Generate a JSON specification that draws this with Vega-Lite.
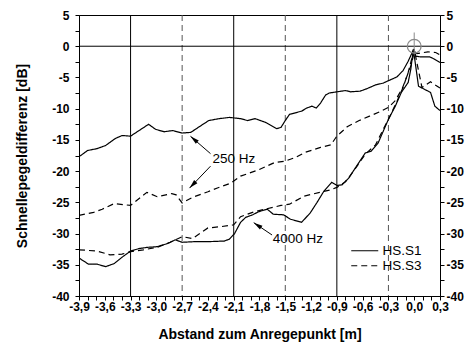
{
"$schema": "https://vega.github.io/schema/vega-lite/v6.json",
"width": 361,
"height": 281,
"autosize": {"type": "none"},
"padding": {"left": 79, "top": 15, "right": 30, "bottom": 47},
"background": "white",
"datasets": {
"curves": [
{"x":-3.89,"y":-17.6,"freq":"250 Hz","sensor":"HS.S1"},{"x":-3.80,"y":-16.7,"freq":"250 Hz","sensor":"HS.S1"},{"x":-3.69,"y":-16.4,"freq":"250 Hz","sensor":"HS.S1"},{"x":-3.59,"y":-15.9,"freq":"250 Hz","sensor":"HS.S1"},{"x":-3.48,"y":-14.8,"freq":"250 Hz","sensor":"HS.S1"},{"x":-3.40,"y":-14.3,"freq":"250 Hz","sensor":"HS.S1"},{"x":-3.30,"y":-14.4,"freq":"250 Hz","sensor":"HS.S1"},{"x":-3.09,"y":-12.5,"freq":"250 Hz","sensor":"HS.S1"},{"x":-3.01,"y":-13.3,"freq":"250 Hz","sensor":"HS.S1"},{"x":-2.91,"y":-13.7,"freq":"250 Hz","sensor":"HS.S1"},{"x":-2.81,"y":-13.5,"freq":"250 Hz","sensor":"HS.S1"},{"x":-2.70,"y":-13.9,"freq":"250 Hz","sensor":"HS.S1"},{"x":-2.60,"y":-13.8,"freq":"250 Hz","sensor":"HS.S1"},{"x":-2.49,"y":-12.8,"freq":"250 Hz","sensor":"HS.S1"},{"x":-2.39,"y":-11.9,"freq":"250 Hz","sensor":"HS.S1"},{"x":-2.27,"y":-11.6,"freq":"250 Hz","sensor":"HS.S1"},{"x":-2.15,"y":-11.4,"freq":"250 Hz","sensor":"HS.S1"},{"x":-2.02,"y":-11.6,"freq":"250 Hz","sensor":"HS.S1"},{"x":-1.94,"y":-11.9,"freq":"250 Hz","sensor":"HS.S1"},{"x":-1.85,"y":-11.6,"freq":"250 Hz","sensor":"HS.S1"},{"x":-1.73,"y":-12.2,"freq":"250 Hz","sensor":"HS.S1"},{"x":-1.60,"y":-13.2,"freq":"250 Hz","sensor":"HS.S1"},{"x":-1.55,"y":-13.0,"freq":"250 Hz","sensor":"HS.S1"},{"x":-1.50,"y":-11.9,"freq":"250 Hz","sensor":"HS.S1"},{"x":-1.45,"y":-10.9,"freq":"250 Hz","sensor":"HS.S1"},{"x":-1.31,"y":-10.4,"freq":"250 Hz","sensor":"HS.S1"},{"x":-1.25,"y":-9.9,"freq":"250 Hz","sensor":"HS.S1"},{"x":-1.19,"y":-9.6,"freq":"250 Hz","sensor":"HS.S1"},{"x":-1.14,"y":-9.9,"freq":"250 Hz","sensor":"HS.S1"},{"x":-1.09,"y":-9.1,"freq":"250 Hz","sensor":"HS.S1"},{"x":-1.03,"y":-7.8,"freq":"250 Hz","sensor":"HS.S1"},{"x":-0.99,"y":-7.5,"freq":"250 Hz","sensor":"HS.S1"},{"x":-0.90,"y":-7.3,"freq":"250 Hz","sensor":"HS.S1"},{"x":-0.80,"y":-7.1,"freq":"250 Hz","sensor":"HS.S1"},{"x":-0.74,"y":-7.3,"freq":"250 Hz","sensor":"HS.S1"},{"x":-0.63,"y":-7.2,"freq":"250 Hz","sensor":"HS.S1"},{"x":-0.55,"y":-6.8,"freq":"250 Hz","sensor":"HS.S1"},{"x":-0.45,"y":-6.2,"freq":"250 Hz","sensor":"HS.S1"},{"x":-0.36,"y":-5.9,"freq":"250 Hz","sensor":"HS.S1"},{"x":-0.28,"y":-5.4,"freq":"250 Hz","sensor":"HS.S1"},{"x":-0.20,"y":-4.9,"freq":"250 Hz","sensor":"HS.S1"},{"x":-0.13,"y":-3.9,"freq":"250 Hz","sensor":"HS.S1"},{"x":-0.07,"y":-2.4,"freq":"250 Hz","sensor":"HS.S1"},{"x":-0.01,"y":-0.6,"freq":"250 Hz","sensor":"HS.S1"},{"x":0.02,"y":-1.6,"freq":"250 Hz","sensor":"HS.S1"},{"x":0.07,"y":-1.7,"freq":"250 Hz","sensor":"HS.S1"},{"x":0.18,"y":-1.7,"freq":"250 Hz","sensor":"HS.S1"},{"x":0.24,"y":-2.1,"freq":"250 Hz","sensor":"HS.S1"},{"x":0.30,"y":-2.6,"freq":"250 Hz","sensor":"HS.S1"},
{"x":-3.90,"y":-27.1,"freq":"250 Hz","sensor":"HS.S3"},{"x":-3.73,"y":-26.6,"freq":"250 Hz","sensor":"HS.S3"},{"x":-3.63,"y":-26.1,"freq":"250 Hz","sensor":"HS.S3"},{"x":-3.49,"y":-25.2,"freq":"250 Hz","sensor":"HS.S3"},{"x":-3.30,"y":-25.5,"freq":"250 Hz","sensor":"HS.S3"},{"x":-3.11,"y":-23.4,"freq":"250 Hz","sensor":"HS.S3"},{"x":-2.99,"y":-24.1,"freq":"250 Hz","sensor":"HS.S3"},{"x":-2.82,"y":-23.6,"freq":"250 Hz","sensor":"HS.S3"},{"x":-2.77,"y":-23.8,"freq":"250 Hz","sensor":"HS.S3"},{"x":-2.70,"y":-25.1,"freq":"250 Hz","sensor":"HS.S3"},{"x":-2.58,"y":-24.2,"freq":"250 Hz","sensor":"HS.S3"},{"x":-2.40,"y":-23.3,"freq":"250 Hz","sensor":"HS.S3"},{"x":-2.29,"y":-22.7,"freq":"250 Hz","sensor":"HS.S3"},{"x":-2.13,"y":-21.9,"freq":"250 Hz","sensor":"HS.S3"},{"x":-2.02,"y":-20.8,"freq":"250 Hz","sensor":"HS.S3"},{"x":-1.81,"y":-19.8,"freq":"250 Hz","sensor":"HS.S3"},{"x":-1.62,"y":-18.6,"freq":"250 Hz","sensor":"HS.S3"},{"x":-1.50,"y":-18.4,"freq":"250 Hz","sensor":"HS.S3"},{"x":-1.38,"y":-17.8,"freq":"250 Hz","sensor":"HS.S3"},{"x":-1.27,"y":-17.0,"freq":"250 Hz","sensor":"HS.S3"},{"x":-1.09,"y":-16.2,"freq":"250 Hz","sensor":"HS.S3"},{"x":-0.97,"y":-15.8,"freq":"250 Hz","sensor":"HS.S3"},{"x":-0.90,"y":-14.4,"freq":"250 Hz","sensor":"HS.S3"},{"x":-0.78,"y":-12.9,"freq":"250 Hz","sensor":"HS.S3"},{"x":-0.64,"y":-11.9,"freq":"250 Hz","sensor":"HS.S3"},{"x":-0.52,"y":-11.2,"freq":"250 Hz","sensor":"HS.S3"},{"x":-0.40,"y":-10.5,"freq":"250 Hz","sensor":"HS.S3"},{"x":-0.30,"y":-9.8,"freq":"250 Hz","sensor":"HS.S3"},{"x":-0.22,"y":-8.7,"freq":"250 Hz","sensor":"HS.S3"},{"x":-0.14,"y":-6.8,"freq":"250 Hz","sensor":"HS.S3"},{"x":-0.09,"y":-5.0,"freq":"250 Hz","sensor":"HS.S3"},{"x":-0.03,"y":-2.8,"freq":"250 Hz","sensor":"HS.S3"},{"x":0.0,"y":-0.8,"freq":"250 Hz","sensor":"HS.S3"},{"x":0.03,"y":-1.2,"freq":"250 Hz","sensor":"HS.S3"},{"x":0.16,"y":-0.9,"freq":"250 Hz","sensor":"HS.S3"},{"x":0.25,"y":-1.0,"freq":"250 Hz","sensor":"HS.S3"},{"x":0.30,"y":-1.4,"freq":"250 Hz","sensor":"HS.S3"},
{"x":-3.89,"y":-34.0,"freq":"4000 Hz","sensor":"HS.S1"},{"x":-3.79,"y":-34.9,"freq":"4000 Hz","sensor":"HS.S1"},{"x":-3.69,"y":-34.9,"freq":"4000 Hz","sensor":"HS.S1"},{"x":-3.59,"y":-35.3,"freq":"4000 Hz","sensor":"HS.S1"},{"x":-3.49,"y":-34.8,"freq":"4000 Hz","sensor":"HS.S1"},{"x":-3.40,"y":-33.8,"freq":"4000 Hz","sensor":"HS.S1"},{"x":-3.30,"y":-32.8,"freq":"4000 Hz","sensor":"HS.S1"},{"x":-3.20,"y":-32.4,"freq":"4000 Hz","sensor":"HS.S1"},{"x":-3.10,"y":-32.2,"freq":"4000 Hz","sensor":"HS.S1"},{"x":-2.99,"y":-32.1,"freq":"4000 Hz","sensor":"HS.S1"},{"x":-2.87,"y":-31.6,"freq":"4000 Hz","sensor":"HS.S1"},{"x":-2.78,"y":-31.0,"freq":"4000 Hz","sensor":"HS.S1"},{"x":-2.70,"y":-31.4,"freq":"4000 Hz","sensor":"HS.S1"},{"x":-2.56,"y":-31.3,"freq":"4000 Hz","sensor":"HS.S1"},{"x":-2.40,"y":-31.3,"freq":"4000 Hz","sensor":"HS.S1"},{"x":-2.21,"y":-31.2,"freq":"4000 Hz","sensor":"HS.S1"},{"x":-2.15,"y":-30.9,"freq":"4000 Hz","sensor":"HS.S1"},{"x":-2.09,"y":-30.0,"freq":"4000 Hz","sensor":"HS.S1"},{"x":-2.02,"y":-28.2,"freq":"4000 Hz","sensor":"HS.S1"},{"x":-1.96,"y":-27.4,"freq":"4000 Hz","sensor":"HS.S1"},{"x":-1.88,"y":-27.0,"freq":"4000 Hz","sensor":"HS.S1"},{"x":-1.81,"y":-26.5,"freq":"4000 Hz","sensor":"HS.S1"},{"x":-1.71,"y":-26.1,"freq":"4000 Hz","sensor":"HS.S1"},{"x":-1.64,"y":-26.9,"freq":"4000 Hz","sensor":"HS.S1"},{"x":-1.52,"y":-27.0,"freq":"4000 Hz","sensor":"HS.S1"},{"x":-1.44,"y":-27.7,"freq":"4000 Hz","sensor":"HS.S1"},{"x":-1.31,"y":-28.2,"freq":"4000 Hz","sensor":"HS.S1"},{"x":-1.21,"y":-26.7,"freq":"4000 Hz","sensor":"HS.S1"},{"x":-1.13,"y":-25.0,"freq":"4000 Hz","sensor":"HS.S1"},{"x":-1.05,"y":-23.2,"freq":"4000 Hz","sensor":"HS.S1"},{"x":-0.96,"y":-21.8,"freq":"4000 Hz","sensor":"HS.S1"},{"x":-0.90,"y":-22.3,"freq":"4000 Hz","sensor":"HS.S1"},{"x":-0.84,"y":-22.2,"freq":"4000 Hz","sensor":"HS.S1"},{"x":-0.76,"y":-21.1,"freq":"4000 Hz","sensor":"HS.S1"},{"x":-0.69,"y":-19.6,"freq":"4000 Hz","sensor":"HS.S1"},{"x":-0.57,"y":-17.1,"freq":"4000 Hz","sensor":"HS.S1"},{"x":-0.50,"y":-16.8,"freq":"4000 Hz","sensor":"HS.S1"},{"x":-0.42,"y":-15.5,"freq":"4000 Hz","sensor":"HS.S1"},{"x":-0.36,"y":-13.6,"freq":"4000 Hz","sensor":"HS.S1"},{"x":-0.30,"y":-11.7,"freq":"4000 Hz","sensor":"HS.S1"},{"x":-0.22,"y":-9.6,"freq":"4000 Hz","sensor":"HS.S1"},{"x":-0.15,"y":-7.4,"freq":"4000 Hz","sensor":"HS.S1"},{"x":-0.07,"y":-5.8,"freq":"4000 Hz","sensor":"HS.S1"},{"x":-0.04,"y":-3.7,"freq":"4000 Hz","sensor":"HS.S1"},{"x":-0.01,"y":-0.5,"freq":"4000 Hz","sensor":"HS.S1"},{"x":0.05,"y":-6.4,"freq":"4000 Hz","sensor":"HS.S1"},{"x":0.19,"y":-7.4,"freq":"4000 Hz","sensor":"HS.S1"},{"x":0.24,"y":-9.6,"freq":"4000 Hz","sensor":"HS.S1"},{"x":0.30,"y":-10.3,"freq":"4000 Hz","sensor":"HS.S1"},
{"x":-3.90,"y":-32.6,"freq":"4000 Hz","sensor":"HS.S3"},{"x":-3.69,"y":-32.8,"freq":"4000 Hz","sensor":"HS.S3"},{"x":-3.54,"y":-33.4,"freq":"4000 Hz","sensor":"HS.S3"},{"x":-3.40,"y":-33.3,"freq":"4000 Hz","sensor":"HS.S3"},{"x":-3.30,"y":-32.9,"freq":"4000 Hz","sensor":"HS.S3"},{"x":-3.15,"y":-32.6,"freq":"4000 Hz","sensor":"HS.S3"},{"x":-2.99,"y":-32.2,"freq":"4000 Hz","sensor":"HS.S3"},{"x":-2.84,"y":-31.4,"freq":"4000 Hz","sensor":"HS.S3"},{"x":-2.70,"y":-30.5,"freq":"4000 Hz","sensor":"HS.S3"},{"x":-2.58,"y":-30.8,"freq":"4000 Hz","sensor":"HS.S3"},{"x":-2.40,"y":-29.1,"freq":"4000 Hz","sensor":"HS.S3"},{"x":-2.25,"y":-28.9,"freq":"4000 Hz","sensor":"HS.S3"},{"x":-2.10,"y":-28.6,"freq":"4000 Hz","sensor":"HS.S3"},{"x":-2.02,"y":-27.3,"freq":"4000 Hz","sensor":"HS.S3"},{"x":-1.86,"y":-26.5,"freq":"4000 Hz","sensor":"HS.S3"},{"x":-1.55,"y":-25.5,"freq":"4000 Hz","sensor":"HS.S3"},{"x":-1.45,"y":-25.3,"freq":"4000 Hz","sensor":"HS.S3"},{"x":-1.28,"y":-24.0,"freq":"4000 Hz","sensor":"HS.S3"},{"x":-1.10,"y":-23.4,"freq":"4000 Hz","sensor":"HS.S3"},{"x":-0.97,"y":-23.0,"freq":"4000 Hz","sensor":"HS.S3"},{"x":-0.90,"y":-22.6,"freq":"4000 Hz","sensor":"HS.S3"},{"x":-0.80,"y":-21.7,"freq":"4000 Hz","sensor":"HS.S3"},{"x":-0.70,"y":-19.9,"freq":"4000 Hz","sensor":"HS.S3"},{"x":-0.57,"y":-17.3,"freq":"4000 Hz","sensor":"HS.S3"},{"x":-0.45,"y":-15.8,"freq":"4000 Hz","sensor":"HS.S3"},{"x":-0.36,"y":-13.3,"freq":"4000 Hz","sensor":"HS.S3"},{"x":-0.30,"y":-11.7,"freq":"4000 Hz","sensor":"HS.S3"},{"x":-0.20,"y":-8.8,"freq":"4000 Hz","sensor":"HS.S3"},{"x":-0.13,"y":-6.6,"freq":"4000 Hz","sensor":"HS.S3"},{"x":-0.07,"y":-4.2,"freq":"4000 Hz","sensor":"HS.S3"},{"x":-0.04,"y":-2.6,"freq":"4000 Hz","sensor":"HS.S3"},{"x":0.0,"y":-0.5,"freq":"4000 Hz","sensor":"HS.S3"},{"x":0.09,"y":-6.6,"freq":"4000 Hz","sensor":"HS.S3"},{"x":0.19,"y":-5.7,"freq":"4000 Hz","sensor":"HS.S3"},{"x":0.30,"y":-6.7,"freq":"4000 Hz","sensor":"HS.S3"}
],
"arrows": [
{"x":-2.370,"y":-17.20,"x2":-2.603,"y2":-14.42,"angle":311},
{"x":-2.370,"y":-19.21,"x2":-2.614,"y2":-22.72,"angle":224},
{"x":-1.654,"y":-30.23,"x2":-1.867,"y2":-28.25,"angle":304}
],
"labels": [
{"x":-2.347,"y":-18.05,"label":"250 Hz"},
{"x":-1.647,"y":-30.87,"label":"4000 Hz"}
]
},
"resolve": {"scale": {"y": "shared", "x": "shared"}, "axis": {"x": "independent", "y": "independent"}},
"layer": [
{
"data": {"values": [{"x": -3.3}, {"x": -2.1}, {"x": -0.9}]},
"mark": {"type": "rule", "color": "black", "strokeWidth": 1},
"encoding": {"x": {"field": "x", "type": "quantitative", "axis": null}}
},
{
"data": {"values": [{"x": -2.7}, {"x": -1.5}, {"x": -0.3}]},
"mark": {"type": "rule", "color": "#555555", "strokeWidth": 1, "strokeDash": [6, 4]},
"encoding": {"x": {"field": "x", "type": "quantitative", "axis": null}}
},
{
"data": {"name": "curves"},
"mark": {"type": "line", "color": "black", "strokeWidth": 1.2},
"encoding": {
"x": {"field": "x", "type": "quantitative", "scale": {"domain": [-3.9, 0.3], "nice": false, "zero": false},
"axis": {"title": "Abstand zum Anregepunkt [m]", "orient": "bottom",
"values": [-3.9,-3.8,-3.7,-3.6,-3.5,-3.4,-3.3,-3.2,-3.1,-3.0,-2.9,-2.8,-2.7,-2.6,-2.5,-2.4,-2.3,-2.2,-2.1,-2.0,-1.9,-1.8,-1.7,-1.6,-1.5,-1.4,-1.3,-1.2,-1.1,-1.0,-0.9,-0.8,-0.7,-0.6,-0.5,-0.4,-0.3,-0.2,-0.1,0.0,0.1,0.2,0.3],
"format": ".1f", "labelExpr": "round(datum.value*10) % 3 == 0 ? datum.label : ''",
"labelOverlap": false, "labelFlush": false, "tickSize": 4, "labelPadding": 1, "titlePadding": 15}},
"y": {"field": "y", "type": "quantitative", "scale": {"domain": [-40, 5], "nice": false, "zero": false},
"axis": {"title": "Schnellepegeldifferenz [dB]", "orient": "left",
"values": [-40,-37.5,-35,-32.5,-30,-27.5,-25,-22.5,-20,-17.5,-15,-12.5,-10,-7.5,-5,-2.5,0,2.5,5],
"format": "d", "labelExpr": "datum.value % 5 == 0 ? datum.label : ''",
"labelOverlap": false, "labelFlush": false, "tickSize": 4, "labelPadding": 6, "titlePadding": 22}},
"strokeDash": {"field": "sensor", "type": "nominal", "scale": {"domain": ["HS.S1", "HS.S3"], "range": [[1, 0], [6, 4]]},
"legend": {"orient": "none", "legendX": 279, "legendY": 229, "title": null, "symbolType": "M-2.7,0H2.7", "symbolSize": 100, "symbolStrokeWidth": 1.2, "symbolStrokeColor": "black", "symbolFillColor": "transparent", "labelFont": "Liberation Sans", "labelFontSize": 13.5, "labelFontWeight": "normal", "labelColor": "black", "labelOffset": 11, "rowPadding": 0, "padding": 0}},
"detail": {"field": "freq", "type": "nominal"}
}
},
{
"data": {"values": [{"v": 0}]},
"mark": {"type": "rule", "color": "black", "strokeWidth": 1},
"encoding": {
"y": {"field": "v", "type": "quantitative",
"axis": {"title": null, "orient": "right",
"values": [-40,-37.5,-35,-32.5,-30,-27.5,-25,-22.5,-20,-17.5,-15,-12.5,-10,-7.5,-5,-2.5,0,2.5,5],
"format": "d", "labelExpr": "datum.value % 5 == 0 ? datum.label : ''",
"labelOverlap": false, "labelFlush": false, "tickSize": 4, "labelPadding": 2}}
}
},
{
"data": {"values": [{"x": 0, "y": 2.2, "y2": -1.3}]},
"mark": {"type": "rule", "color": "#8a8a8a", "strokeWidth": 1},
"encoding": {
"x": {"field": "x", "type": "quantitative", "axis": null},
"y": {"field": "y", "type": "quantitative", "axis": null},
"y2": {"field": "y2"}
}
},
{
"data": {"values": [{"x": 0, "y": 0}]},
"mark": {"type": "point", "shape": "circle", "size": 190, "filled": false, "color": "#8a8a8a", "strokeWidth": 1.3, "opacity": 1},
"encoding": {
"x": {"field": "x", "type": "quantitative", "axis": null},
"y": {"field": "y", "type": "quantitative", "axis": null}
}
},
{
"data": {"name": "arrows"},
"mark": {"type": "rule", "color": "black", "strokeWidth": 1},
"encoding": {
"x": {"field": "x", "type": "quantitative", "axis": null},
"y": {"field": "y", "type": "quantitative", "axis": null},
"x2": {"field": "x2"},
"y2": {"field": "y2"}
}
},
{
"data": {"name": "arrows"},
"mark": {"type": "point", "shape": "M0,0L0.5,2L-0.5,2Z", "size": 81, "filled": true, "color": "black", "opacity": 1},
"encoding": {
"x": {"field": "x2", "type": "quantitative", "axis": null},
"y": {"field": "y2", "type": "quantitative", "axis": null},
"angle": {"field": "angle", "type": "quantitative", "scale": null}
}
},
{
"data": {"name": "labels"},
"mark": {"type": "text", "align": "left", "baseline": "middle", "font": "Liberation Sans", "fontSize": 13.5, "color": "black"},
"encoding": {
"x": {"field": "x", "type": "quantitative", "axis": null},
"y": {"field": "y", "type": "quantitative", "axis": null},
"text": {"field": "label"}
}
}
],
"config": {
"locale": {"number": {"decimal": ",", "thousands": ".", "grouping": [3], "currency": ["", " €"], "minus": "-"}},
"view": {"stroke": "black", "strokeWidth": 1},
"axis": {"labelFont": "Liberation Sans", "labelFontSize": 12, "labelFontWeight": "bold", "labelColor": "black",
"titleFont": "Liberation Sans", "titleFontSize": 14, "titleFontWeight": "bold", "titleColor": "black",
"domainColor": "black", "tickColor": "black", "grid": false, "domainWidth": 1, "tickWidth": 1, "labelOverlap": false}
}
}
